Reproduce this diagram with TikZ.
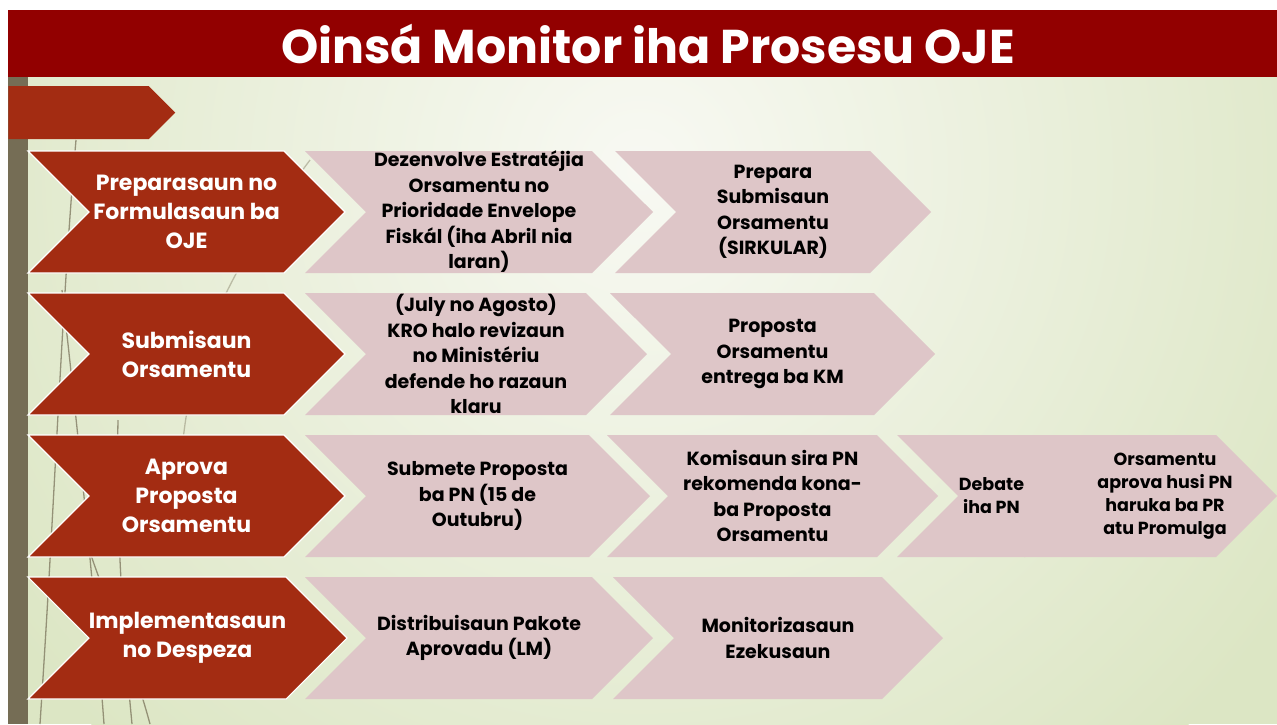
\documentclass[tikz,border=0pt]{standalone}
\usepackage{fontspec}
\setmainfont{Poppins}
\usepackage{tikz}
\usetikzlibrary{shapes.symbols}
\definecolor{OJEtitle}{HTML}{920000}
\definecolor{OJEred}{HTML}{A32C12}
\definecolor{OJEpink}{HTML}{DEC6C8}
\definecolor{OJEolive}{HTML}{756D55}
\definecolor{bgLight}{HTML}{F8F9F3}
\definecolor{bgGreen}{HTML}{DCE6C4}
\tikzset{
  chev/.style={signal,signal from=west,signal to=east,signal pointer angle=90,
    minimum height=122pt,inner sep=0pt,align=center},
  stage/.style={chev,fill=OJEred,draw=white,line width=1.2pt,text=white,
    font=\bfseries\fontsize{22}{29}\selectfont},
  task/.style={chev,fill=OJEpink,text=black,font=\bfseries\fontsize{19}{25.5}\selectfont},
  small/.style={font=\bfseries\fontsize{17.5}{23}\selectfont},
  grass/.style={draw=OJEolive,line width=1.3pt,opacity=.7},
}

\begin{document}
\begin{tikzpicture}[x=1pt,y=-1pt]
\useasboundingbox (0,0) rectangle (1277,724);
\fill[white] (0,0) rectangle (1277,724);
% background
\begin{scope}
  \clip (8,77) rectangle (1277,724);
  \fill[bgGreen] (8,77) rectangle (1277,724);
  \shade[inner color=bgLight,outer color=bgGreen] (640,170) circle (780);
\end{scope}
\fill[OJEtitle] (8,10) rectangle (1277,77);
\node[text=white,font=\bfseries\fontsize{47.4}{56}\selectfont] (title) at (648,44) {Oinsá Monitor iha Prosesu OJE};
\fill[OJEolive] (8,77) rectangle (28,724);

% grass stems
\draw[grass] (40,724) .. controls (55,500) and (62,300) .. (76,140);
\draw[grass] (104,724) .. controls (95,600) and (80,450) .. (62,290);
\draw[grass] (132,724) .. controls (122,620) and (116,520) .. (118,420);
\draw[grass] (150,724) .. controls (130,650) and (105,600) .. (86,540);
\draw[grass,opacity=.4] (183,440) .. controls (190,380) and (205,300) .. (310,160);

\node[signal,signal to=east,signal pointer angle=90,fill=OJEred,
  minimum width=167pt,minimum height=53pt,inner sep=0pt] (tag) at (78.5,112.5) {};

% row 1
\node[stage,minimum width=317pt] (prep) at (186.5,212) {Preparasaun no\\Formulasaun ba\\OJE};
\node[task,minimum width=348pt] (prepA) at (479,212) {Dezenvolve Estratéjia\\Orsamentu no\\Prioridade Envelope\\Fiskál (iha Abril nia\\laran)};
\node[task,minimum width=316pt] (prepB) at (773,212) {Prepara\\Submisaun\\Orsamentu\\(SIRKULAR)};

% row 2
\node[stage,minimum width=317pt] (subm) at (186.5,354) {Submisaun\\Orsamentu};
\node[task,minimum width=342pt] (submA) at (476,354) {(July no Agosto)\\KRO halo revizaun\\no Ministériu\\defende ho razaun\\klaru};
\node[task,minimum width=325pt] (submB) at (772.5,354) {Proposta\\Orsamentu\\entrega ba KM};

% row 3
\node[stage,minimum width=317pt] (aprov) at (186.5,496) {Aprova\\Proposta\\Orsamentu};
\node[task,minimum width=345pt] (aprovA) at (477.5,496) {Submete Proposta\\ba PN (15 de\\Outubru)};
\node[task,minimum width=331pt] (aprovB) at (772.5,496) {Komisaun sira PN\\rekomenda kona-\\ba Proposta\\Orsamentu};
\node[task,small,minimum width=189pt] (aprovC) at (991.5,496) {Debate\\iha PN};
\node[task,minimum width=253pt] (aprovD) at (1150.5,496) {};
\node[small,align=center] (aprovDtxt) at (1165,496) {Orsamentu\\aprova husi PN\\haruka ba PR\\atu Promulga};

% row 4
\node[stage,minimum width=319pt] (impl) at (187.5,638) {Implementasaun\\no Despeza};
\node[task,minimum width=348pt] (implA) at (479,638) {Distribuisaun Pakote\\Aprovadu (LM)};
\node[task,minimum width=330pt] (implB) at (778,638) {Monitorizasaun\\Ezekusaun};
\end{tikzpicture}
\end{document}
